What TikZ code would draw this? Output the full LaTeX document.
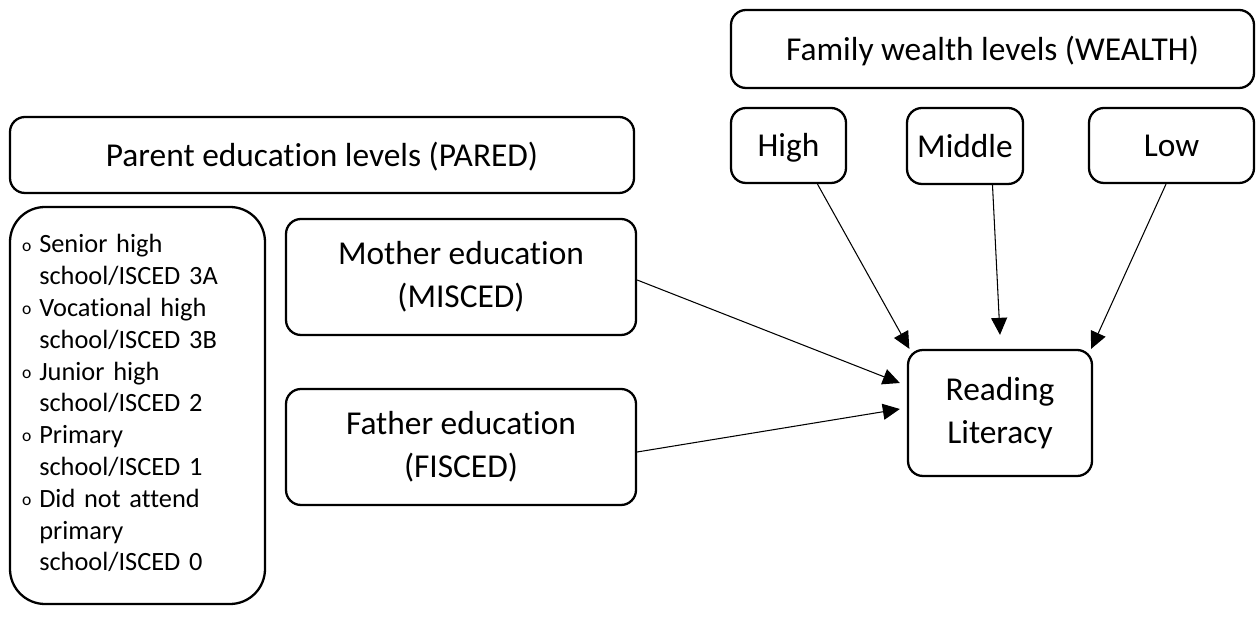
\documentclass[tikz,border=0pt]{standalone}
\usepackage{fontspec}
\setmainfont{Carlito}[Ligatures=NoCommon]
\usetikzlibrary{arrows.meta}
\tikzset{box/.style = {draw, rounded corners=0.3cm, line width=1.3pt, align=center,
                       font=\fontsize{19}{24.5}\selectfont}}
\tikzset{oneline/.style = {text height=17pt, text depth=4pt}}
\tikzset{arr/.style = {-{Triangle[length=0.34cm, width=0.32cm]}, line width=0.6pt}}
\newcommand{\lbul}{\raisebox{1pt}{\fontsize{10}{12}\selectfont o}}

\begin{document}
\begin{tikzpicture}
      \useasboundingbox (0, 0) rectangle (25.16, 12.38);
      \node [box, oneline, minimum width=10.46cm, minimum height=1.56cm] (wealth) at (19.85, 11.40) {Family wealth levels (WEALTH)};
      \node [box, oneline, minimum width=2.30cm, minimum height=1.50cm] (high) at (15.77, 9.47) {High};
      \node [box, oneline, minimum width=2.32cm, minimum height=1.52cm] (middle) at (19.30, 9.46) {Middle};
      \node [box, oneline, minimum width=3.30cm, minimum height=1.50cm] (low) at (23.43, 9.47) {Low};
      \node [box, oneline, minimum width=12.48cm, minimum height=1.52cm] (pared) at (6.44, 9.28) {Parent education levels (PARED)};
      \node [box, rounded corners=0.7cm, align=left, inner xsep=0.24cm, text width=4.62cm,
             minimum height=7.94cm, font=\fontsize{15}{18.1}\selectfont] (levels) at (2.75, 4.27)
            {\begin{tabular}{@{}l@{\hspace{0.16cm}}l@{}}
               \lbul & Senior high \\ & school/ISCED 3A \\
               \lbul & Vocational high \\ & school/ISCED 3B \\
               \lbul & Junior high \\ & school/ISCED 2 \\
               \lbul & Primary \\ & school/ISCED 1 \\
               \lbul & Did not attend \\ & primary \\ & school/ISCED 0
             \end{tabular}};
      \node [box, minimum width=7.00cm, minimum height=2.32cm] (mother) at (9.22, 6.84) {Mother education\\(MISCED)};
      \node [box, minimum width=7.00cm, minimum height=2.32cm] (father) at (9.22, 3.44) {Father education\\(FISCED)};
      \node [box, minimum width=3.68cm, minimum height=2.52cm] (read) at (20.00, 4.12) {Reading\\Literacy};
      \draw [arr] ([xshift=0.58cm] high.south) -- ([xshift=0.05cm] read.north west);
      \draw [arr] ([xshift=0.55cm] middle.south) -- ([yshift=0.28cm] read.north);
      \draw [arr] ([xshift=-0.11cm] low.south) -- ([xshift=-0.04cm] read.north east);
      \draw [arr] ([yshift=-0.06cm] mother.east) -- ([xshift=-0.14cm, yshift=0.60cm] read.west);
      \draw [arr] ([yshift=-0.10cm] father.east) -- ([xshift=-0.14cm, yshift=0.08cm] read.west);
    \end{tikzpicture}
\end{document}
